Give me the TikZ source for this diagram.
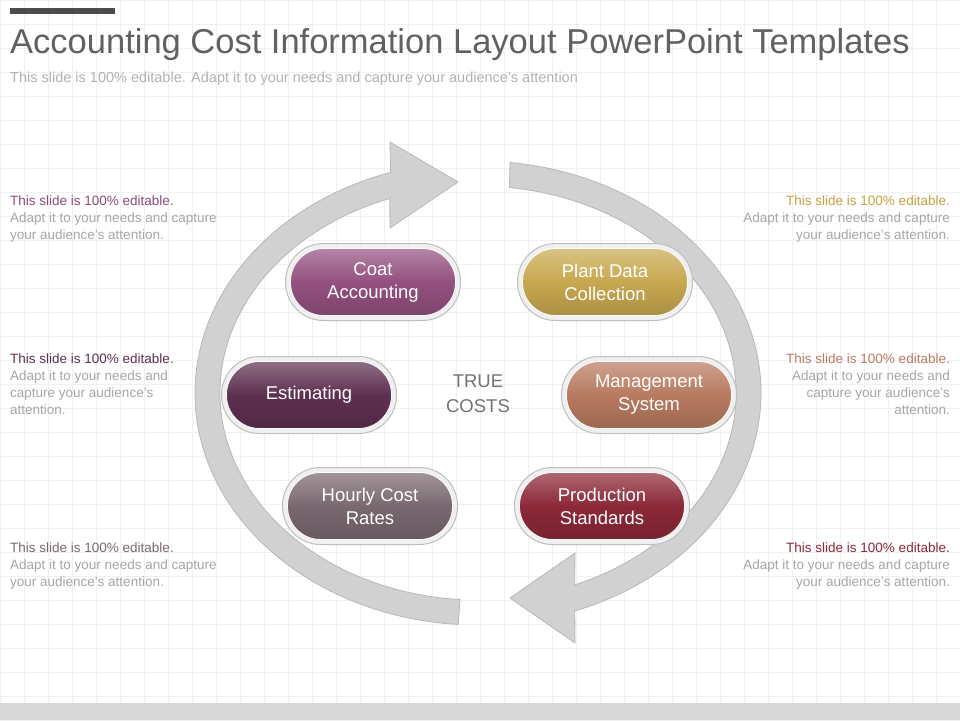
\documentclass[tikz,border=0pt]{standalone}
\usepackage{fontspec}
\setmainfont{Liberation Sans}
\begin{document}
\begin{tikzpicture}[x=1pt,y=-1pt,
  pillout/.style={draw=black!25,fill=black!6,rounded corners=38pt,minimum width=175pt,minimum height=77pt,line width=1pt},
  pillin/.style={rounded corners=33pt,minimum width=165pt,minimum height=67pt,text=white,font=\fontsize{18.5}{23}\selectfont,align=center,draw=white,line width=0.8pt},
  band/.style={fill=black!18,draw=black!28,line width=0.8pt},
  side/.style={font=\fontsize{13.5}{17}\selectfont,text=black!35},
]
\useasboundingbox (0,0) rectangle (960,720);
\fill[white] (0,0) rectangle (960,720);
\draw[black!6,line width=0.5pt] (0,0) grid[step=24pt] (960,720);
\fill[black!15] (0,703) rectangle (960,720);
\fill[black!70] (10,8) rectangle (115,14);
\node[anchor=base west,inner sep=0,text=black!62,font=\fontsize{34.5}{40}\selectfont] (title) at (10,53) {Accounting Cost Information Layout PowerPoint Templates};
\node[anchor=base west,inner sep=0,text=black!30,font=\fontsize{14.5}{17}\selectfont] (sub) at (10,82) {This slide is 100\% editable. Adapt it to your needs and capture your audience's attention};
% left band
\path[band] ({478+283*cos(94)},{393+232*sin(94)}) arc[start angle=94,end angle=252,x radius=283,y radius=232]
  -- (390,142) -- (458,182) -- (390,228)
  -- ({478+258*cos(250)},{393+207*sin(250)}) arc[start angle=250,end angle=94,x radius=258,y radius=207] -- cycle;
% right band
\path[band] ({478+283*cos(276.5)},{393+232*sin(276.5)}) arc[start angle=276.5,end angle=430,x radius=283,y radius=232]
  -- (575,643) -- (510,598) -- (575,553)
  -- ({478+258*cos(428)},{393+207*sin(428)}) arc[start angle=428,end angle=277,x radius=258,y radius=207] -- cycle;
% pills
\foreach \n/\x/\y/\c/\t in {a/373/282/94507F/{Coat\\Accounting},b/605/282/C8A850/{Plant Data\\Collection},c/309/395/5E3050/{Estimating},d/649/395/B87A60/{Management\\System},e/370/506/7A6870/{Hourly Cost\\Rates},f/602/506/8C2838/{Production\\Standards}}{
  \definecolor{pc}{HTML}{\c}
  \node[pillout] (o\n) at (\x,\y) {};
  \node[pillin,top color=pc!70!white,bottom color=pc!85!black,middle color=pc] (p\n) at (\x,\y) {\t};
}
\node[text=black!55,font=\fontsize{18.5}{25}\selectfont,align=center] (tc) at (478,394) {TRUE\\COSTS};
% side texts
\definecolor{c1}{HTML}{8B4A7A}\definecolor{c2}{HTML}{5E3050}\definecolor{c3}{HTML}{7A6870}
\definecolor{c4}{HTML}{C8A040}\definecolor{c5}{HTML}{B87A60}\definecolor{c6}{HTML}{8C2838}
\node[side,anchor=north west,align=left,inner sep=0] (l1) at (10,196) {\textcolor{c1}{This slide is 100\% editable.}\\Adapt it to your needs and capture\\your audience's attention.};
\node[side,anchor=north west,align=left,inner sep=0] (l2) at (10,354) {\textcolor{c2}{This slide is 100\% editable.}\\Adapt it to your needs and\\capture your audience's\\attention.};
\node[side,anchor=north west,align=left,inner sep=0] (l3) at (10,543) {\textcolor{c3}{This slide is 100\% editable.}\\Adapt it to your needs and capture\\your audience's attention.};
\node[side,anchor=north east,align=right,inner sep=0] (r1) at (950,196) {\textcolor{c4}{This slide is 100\% editable.}\\Adapt it to your needs and capture\\your audience's attention.};
\node[side,anchor=north east,align=right,inner sep=0] (r2) at (950,354) {\textcolor{c5}{This slide is 100\% editable.}\\Adapt it to your needs and\\capture your audience's\\attention.};
\node[side,anchor=north east,align=right,inner sep=0] (r3) at (950,543) {\textcolor{c6}{This slide is 100\% editable.}\\Adapt it to your needs and capture\\your audience's attention.};
\end{tikzpicture}
\end{document}
